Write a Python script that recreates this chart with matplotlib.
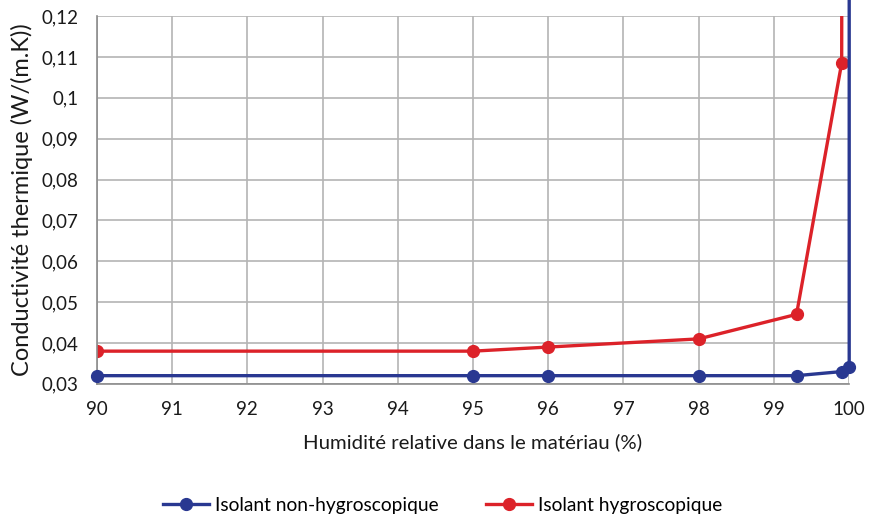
import matplotlib
matplotlib.use("Agg")
import matplotlib.pyplot as plt
from matplotlib.ticker import FuncFormatter, MultipleLocator

plt.rcParams["font.family"] = ["Lato", "DejaVu Sans"]

# humidite relative (%)
hr_non_hygro = [90, 95, 96, 98, 99.3, 99.9, 100, 100]
lambda_non_hygro = [0.032, 0.032, 0.032, 0.032, 0.032, 0.033, 0.034, 0.5]

hr_hygro = [90, 95, 96, 98, 99.3, 99.9, 99.93]
lambda_hygro = [0.038, 0.038, 0.039, 0.041, 0.047, 0.1085, 0.5]

labels = ["Isolant non-hygroscopique", "Isolant hygroscopique"]
BLUE = "#293891"
RED = "#dc2229"

fig = plt.figure(figsize=(8.8, 5.18), dpi=100)
ax = fig.add_axes([0.110, 0.259, 0.855, 0.710])

ax.plot(hr_non_hygro, lambda_non_hygro, color=BLUE, lw=2.4, marker="o", ms=8.5,
        label=labels[0], clip_on=False, zorder=3)
ax.plot(hr_hygro, lambda_hygro, color=RED, lw=2.4, marker="o", ms=8.5,
        label=labels[1], zorder=2)

ax.set_xlim(90, 100)
ax.set_ylim(0.03, 0.12)
ax.xaxis.set_major_locator(MultipleLocator(1))
ax.yaxis.set_major_locator(MultipleLocator(0.01))

def fr_fmt(v, pos):
    s = ("%.2f" % v).rstrip("0").rstrip(".")
    return s.replace(".", ",")

ax.yaxis.set_major_formatter(FuncFormatter(fr_fmt))
ax.xaxis.set_major_formatter(FuncFormatter(lambda v, p: "%d" % round(v)))

ax.grid(True, color="#b4b4b4", lw=1.2)
ax.set_axisbelow(True)
for side in ["top", "right"]:
    ax.spines[side].set_visible(False)
for side in ["left", "bottom"]:
    ax.spines[side].set_color("#8c8c8c")
    ax.spines[side].set_linewidth(1.2)
ax.tick_params(length=0, labelsize=13.5, colors="#1a1a1a")
ax.tick_params(axis="x", pad=12)
ax.tick_params(axis="y", pad=13)

ax.set_xlabel("Humidité relative dans le matériau (%)", fontsize=14.7, color="#1a1a1a", labelpad=11)
ax.set_ylabel("Conductivité thermique (W/(m.K))", fontsize=17, color="#1a1a1a", labelpad=6)

fig.legend(loc="center", bbox_to_anchor=(0.503, 0.025), ncol=2, frameon=False,
           fontsize=13.8, handlelength=2.4, columnspacing=2.5, handletextpad=0.3)

fig.savefig("out.png", dpi=100)
